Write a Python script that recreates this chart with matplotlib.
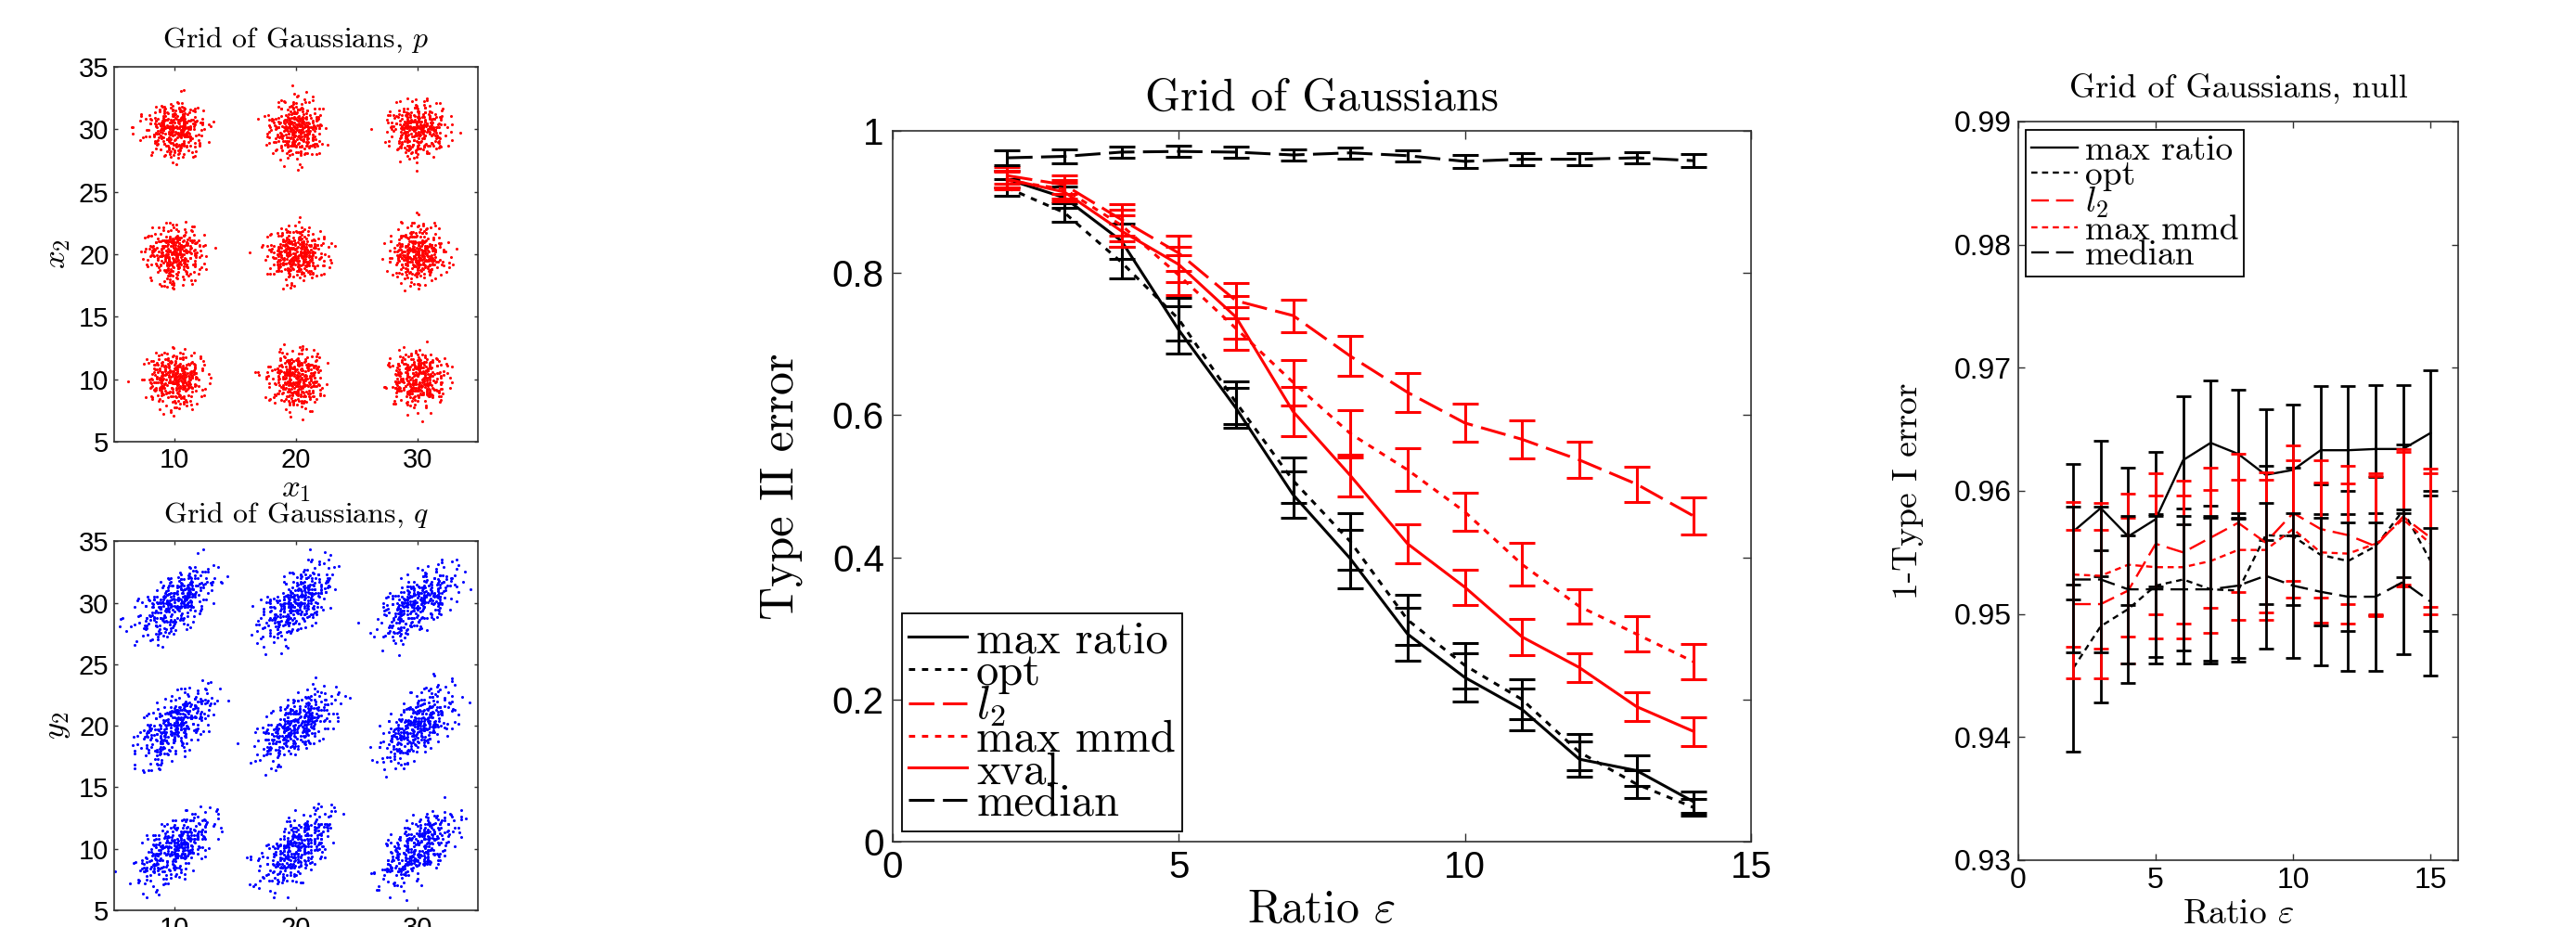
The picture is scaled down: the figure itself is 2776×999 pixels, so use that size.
import numpy as np
import matplotlib
matplotlib.use('Agg')
import matplotlib.pyplot as plt

plt.rcParams['mathtext.fontset'] = 'cm'
plt.rcParams['font.family'] = ['Liberation Sans', 'DejaVu Sans']

# ---- sample clouds (standardised offsets, reused for every blob) ----
grid_centres = [10, 20, 30]
p_sd = (1.0, 1.0)          # isotropic blobs for p
q_sd = (1.7, 0.85)         # blobs for q, stretched along the diagonal

off_x = [0.3, -1.2, 0.8, -0.4, 1.5, -0.9, 0.1, 2.1, -1.7, 0.6, -0.2, 1.1, -0.6, 0.4, -1.4, 0.9, -0.1, 1.8, -2.3, 0.2,
         -0.8, 1.3, -0.5, 0.7, -1.1, 0.0, 1.6, -0.3, 0.5, -1.9, 1.0, -0.7, 2.6, -0.2, 0.3, -1.3, 0.8, -0.6, 1.2, -0.1,
         0.4, -1.6, 0.9, -0.4, 1.4, -1.0, 0.2, -2.0, 0.6, -0.3, 1.9, -0.8, 0.1, -1.2, 0.7, -0.5, 1.1, -0.2, 0.3, -0.9,
         1.5, -1.5, 0.5, -0.1, 2.3, -0.7, 0.0, -1.8, 1.0, -0.4, 0.6, -1.1, 1.3, -0.6, 0.2, -2.7, 0.8, -0.3, 1.7, -0.9,
         0.4, -1.4, 0.1, -0.5, 1.2, -0.2, 0.9, -1.0, 0.5, -1.7, 2.0, -0.8, 0.3, -0.1, 1.4, -1.3, 0.7, -0.6, 0.0, -2.2,
         1.1, -0.4, 0.6, -1.5, 1.8, -0.7, 0.2, -0.9, 1.0, -0.3, 0.4, -1.2, 2.8, -0.5, 0.8, -1.9, 0.1, -0.2, 1.3, -1.0]
off_y = [-0.7, 0.4, 1.2, -1.5, 0.1, 0.9, -0.3, -1.1, 0.6, 2.2, -0.8, 0.0, 1.4, -0.2, -1.9, 0.5, 1.0, -0.6, 0.3, -1.3,
         0.8, -0.1, -2.4, 1.6, 0.2, -0.9, 0.7, 1.1, -0.4, -0.5, 1.9, -1.2, 0.4, 0.0, -1.7, 0.9, -0.3, 2.5, -0.8, 0.6,
         -1.0, 1.3, 0.1, -0.6, -1.4, 0.5, 1.7, -0.2, 0.3, -2.1, 1.0, 0.7, -0.9, -0.1, 1.5, -1.6, 0.2, 0.8, -0.4, 1.2,
         -0.7, 0.0, -1.1, 2.0, 0.4, -0.3, 1.1, 0.6, -1.8, 0.9, -0.5, 0.1, 1.4, -1.0, -0.2, 0.7, -2.6, 0.3, 1.8, -0.6,
         0.5, 1.0, -1.3, 0.2, -0.8, 2.3, -0.1, 0.6, -1.5, 0.9, -0.4, 1.6, 0.0, -0.7, -1.2, 0.4, 1.2, -2.0, 0.8, -0.3,
         0.1, -0.9, 1.7, 0.3, -0.5, -1.4, 0.7, 2.7, -0.6, 1.1, -1.1, 0.2, -0.2, 0.5, -1.6, 0.9, 1.3, -0.8, 0.0, 0.6]

# ---- type II error vs ratio ----
ratio = [2, 3, 4, 5, 6, 7, 8, 9, 10, 11, 12, 13, 14]
t2_max_ratio = [0.932, 0.906, 0.845, 0.72, 0.61, 0.488, 0.398, 0.292, 0.231, 0.186, 0.116, 0.10, 0.056]
t2_opt = [0.920, 0.885, 0.815, 0.735, 0.618, 0.508, 0.422, 0.312, 0.248, 0.200, 0.126, 0.081, 0.048]
t2_l2 = [0.937, 0.924, 0.875, 0.828, 0.761, 0.740, 0.683, 0.632, 0.589, 0.566, 0.537, 0.503, 0.458]
t2_max_mmd = [0.930, 0.918, 0.867, 0.797, 0.722, 0.646, 0.574, 0.523, 0.464, 0.390, 0.331, 0.292, 0.253]
t2_xval = [0.932, 0.914, 0.859, 0.812, 0.738, 0.605, 0.515, 0.419, 0.358, 0.288, 0.245, 0.190, 0.155]
t2_median = [0.962, 0.964, 0.970, 0.971, 0.970, 0.966, 0.969, 0.965, 0.957, 0.960, 0.960, 0.962, 0.958]

t2_max_ratio_err = [0.012, 0.015, 0.025, 0.033, 0.028, 0.033, 0.041, 0.037, 0.034, 0.030, 0.025, 0.022, 0.015]
t2_opt_err = [0.012, 0.013, 0.022, 0.030, 0.030, 0.032, 0.040, 0.035, 0.032, 0.028, 0.025, 0.020, 0.012]
t2_l2_err = [0.012, 0.013, 0.022, 0.025, 0.025, 0.023, 0.028, 0.027, 0.027, 0.027, 0.025, 0.025, 0.026]
t2_max_mmd_err = [0.012, 0.013, 0.022, 0.028, 0.030, 0.032, 0.033, 0.030, 0.027, 0.030, 0.024, 0.025, 0.025]
t2_xval_err = [0.012, 0.013, 0.022, 0.025, 0.030, 0.035, 0.030, 0.028, 0.025, 0.025, 0.020, 0.020, 0.020]
t2_median_err = [0.010, 0.010, 0.008, 0.008, 0.008, 0.008, 0.008, 0.008, 0.009, 0.009, 0.008, 0.008, 0.009]

# ---- 1 - type I error under the null ----
ratio_null = [2, 3, 4, 5, 6, 7, 8, 9, 10, 11, 12, 13, 14, 15]
t1_max_ratio = [0.9567, 0.9586, 0.9563, 0.9577, 0.9625, 0.9639, 0.9630, 0.9613, 0.9617, 0.9633, 0.9633, 0.9634, 0.9634, 0.9647]
t1_opt = [0.9456, 0.9490, 0.9504, 0.9523, 0.9528, 0.9520, 0.9519, 0.9564, 0.9563, 0.9548, 0.9543, 0.9555, 0.9584, 0.9543]
t1_l2 = [0.9508, 0.9508, 0.9519, 0.9557, 0.9550, 0.9562, 0.9574, 0.9558, 0.9582, 0.9569, 0.9564, 0.9555, 0.9579, 0.9562]
t1_max_mmd = [0.9532, 0.9531, 0.9540, 0.9538, 0.9538, 0.9543, 0.9552, 0.9552, 0.9569, 0.9550, 0.9549, 0.9557, 0.9577, 0.9557]
t1_median = [0.9528, 0.9528, 0.9520, 0.9520, 0.9520, 0.9520, 0.9523, 0.9531, 0.9523, 0.9518, 0.9514, 0.9514, 0.9526, 0.9510]

t1_max_ratio_err = [0.0055, 0.0055, 0.0056, 0.0055, 0.0052, 0.0051, 0.0052, 0.0053, 0.0053, 0.0052, 0.0052, 0.0052, 0.0052, 0.0051]
t1_opt_err = [0.0068, 0.0062, 0.0060, 0.0058, 0.0058, 0.0058, 0.0058, 0.0056, 0.0056, 0.0057, 0.0057, 0.0056, 0.0054, 0.0057]
t1_l2_err = [0.0060, 0.0060, 0.0059, 0.0057, 0.0058, 0.0057, 0.0056, 0.0057, 0.0055, 0.0056, 0.0056, 0.0057, 0.0055, 0.0056]
t1_max_mmd_err = [0.0059, 0.0059, 0.0058, 0.0058, 0.0058, 0.0058, 0.0057, 0.0057, 0.0056, 0.0057, 0.0057, 0.0057, 0.0055, 0.0057]
t1_median_err = [0.0059, 0.0059, 0.0060, 0.0060, 0.0060, 0.0060, 0.0059, 0.0059, 0.0059, 0.0060, 0.0060, 0.0060, 0.0059, 0.0060]

RED = (1, 0, 0)
BLUE = (0, 0, 1)
SPINE = '#303030'
CM = 'cmr10'   # Computer Modern roman, shipped with matplotlib


def style_axes(ax, tick_size, tick_len, pad):
    for sp in ax.spines.values():
        sp.set_color(SPINE)
        sp.set_linewidth(1.2)
    ax.tick_params(direction='in', top=True, right=True, length=tick_len, width=1.0,
                   color=SPINE, labelsize=tick_size, pad=pad)


def cloud(cx, cy, k, sd):
    ox = np.array(off_x)
    oy = np.array(off_y)
    a = np.concatenate([ox, np.roll(oy, 23 + 7 * k), -np.roll(ox, 53 + 13 * k)])
    b = np.concatenate([np.roll(oy, 11 * k), ox[::-1], -np.roll(oy, 89 + 5 * k)])
    u = sd[0] * a
    v = sd[1] * b
    c = np.sqrt(0.5)
    return cx + c * (u - v), cy + c * (u + v)


def blob_panel(ax, sd, colour, title, xlab, ylab):
    k = 0
    for cy in grid_centres:
        for cx in grid_centres:
            x, y = cloud(cx, cy, k, sd)
            ax.plot(x, y, 'o', ms=2.2, mew=0, color=colour)
            k += 1
    ax.set_xlim(5, 35)
    ax.set_ylim(5, 35)
    ax.set_xticks([10, 20, 30])
    ax.set_yticks([5, 10, 15, 20, 25, 30, 35])
    style_axes(ax, 21, 3, 4)
    ax.set_title(title, fontsize=23, pad=15, family=CM)
    if xlab:
        ax.set_xlabel(xlab, fontsize=25)
        ax.xaxis.set_label_coords(0.5, -0.085)
    ax.set_ylabel(ylab, fontsize=25)
    ax.yaxis.set_label_coords(-0.115, 0.5)


def legend(ax, size, spacing, hlen, **kw):
    leg = ax.legend(borderaxespad=0, prop={'family': CM, 'size': size},
                    handlelength=hlen, handletextpad=0.2, borderpad=0.15,
                    labelspacing=spacing, fancybox=False, edgecolor='k',
                    framealpha=1, **kw)
    leg.get_frame().set_linewidth(1.3)
    return leg


fig = plt.figure(figsize=(27.76, 9.99), dpi=100)

# left column: samples from p and q
ax_p = fig.add_axes([0.0443, 0.5235, 0.1412, 0.4044])
blob_panel(ax_p, p_sd, RED, 'Grid of Gaussians, $p$', r'$x_1$', r'$x_2$')
ax_q = fig.add_axes([0.0443, 0.018, 0.1412, 0.398])
blob_panel(ax_q, q_sd, BLUE, 'Grid of Gaussians, $q$', None, r'$y_2$')

# middle: type II error
ax = fig.add_axes([0.3465, 0.0921, 0.3332, 0.7668])
lw = 2.2
dot = (0, (2.2, 2.4))
dash = (0, (9, 3))
series = [
    (t2_max_ratio, t2_max_ratio_err, 'k', '-', 'max ratio'),
    (t2_opt, t2_opt_err, 'k', dot, 'opt'),
    (t2_l2, t2_l2_err, RED, dash, r'$l_2$'),
    (t2_max_mmd, t2_max_mmd_err, RED, dot, 'max mmd'),
    (t2_xval, t2_xval_err, RED, '-', 'xval'),
    (t2_median, t2_median_err, 'k', dash, 'median'),
]
for vals, err, col, ls, lab in series:
    ax.errorbar(ratio, vals, yerr=err, fmt='none', ecolor=col, elinewidth=lw,
                capsize=10, capthick=lw)
    ax.plot(ratio, vals, color=col, ls=ls, lw=lw, label=lab)
ax.set_xlim(0, 15)
ax.set_ylim(0, 1)
ax.set_xticks([0, 5, 10, 15])
ax.set_yticks([0, 0.2, 0.4, 0.6, 0.8, 1])
ax.set_yticklabels(['0', '0.2', '0.4', '0.6', '0.8', '1'])
style_axes(ax, 29, 6.5, 6.5)
ax.set_title('Grid of Gaussians', fontsize=35, pad=16, family=CM)
ax.set_xlabel(r'Ratio $\varepsilon$', fontsize=36, family=CM)
ax.xaxis.set_label_coords(0.5, -0.066)
ax.set_ylabel('Type II error', fontsize=36, family=CM)
ax.yaxis.set_label_coords(-0.105, 0.5)
legend(ax, 35, -0.2, 1.3, loc='lower left', bbox_to_anchor=(0.0108, 0.0144))

# right: 1 - type I error under the null
ax = fig.add_axes([0.7835, 0.0721, 0.1707, 0.7968])
lw = 1.7
dot = (0, (2.8, 2.1))
dash = (0, (8, 3.3))
series = [
    (t1_max_ratio, t1_max_ratio_err, 'k', '-', 'max ratio'),
    (t1_opt, t1_opt_err, 'k', dot, 'opt'),
    (t1_l2, t1_l2_err, RED, dash, r'$l_2$'),
    (t1_max_mmd, t1_max_mmd_err, RED, dot, 'max mmd'),
    (t1_median, t1_median_err, 'k', dash, 'median'),
]
for vals, err, col, ls, lab in series:
    ax.errorbar(ratio_null, vals, yerr=err, fmt='none', ecolor=col, elinewidth=2.0,
                capsize=6, capthick=2.0)
    ax.plot(ratio_null, vals, color=col, ls=ls, lw=lw, label=lab)
ax.set_xlim(0, 16)
ax.set_ylim(0.93, 0.99)
ax.set_xticks([0, 5, 10, 15])
ax.set_yticks([0.93, 0.94, 0.95, 0.96, 0.97, 0.98, 0.99])
ax.set_yticklabels(['0.93', '0.94', '0.95', '0.96', '0.97', '0.98', '0.99'])
style_axes(ax, 23, 5, 5)
ax.set_title('Grid of Gaussians, null', fontsize=26, pad=19, family=CM)
ax.set_xlabel(r'Ratio $\varepsilon$', fontsize=27, family=CM)
ax.xaxis.set_label_coords(0.5, -0.052)
ax.set_ylabel('1-Type I error', fontsize=27, family=CM)
ax.yaxis.set_label_coords(-0.215, 0.5)
legend(ax, 27, -0.16, 1.35, loc='upper left', bbox_to_anchor=(0.0169, 0.9887))

fig.savefig('out.png', dpi=100)
